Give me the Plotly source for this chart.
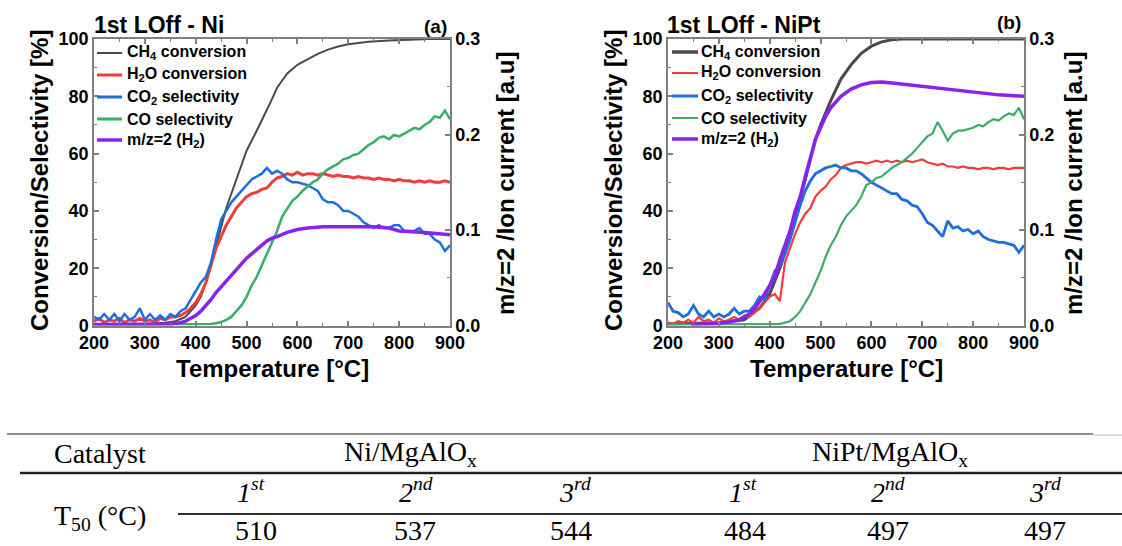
import plotly.graph_objects as go

W, H = 1122, 546


def px(x):
    return x / W


def py(y):
    return 1 - y / H


# ---------------- data ----------------
T10 = list(range(200, 910, 10))

# Panel (a) : Ni
ni_ch4_T = [200, 250, 300, 340, 360, 380, 400, 410, 420, 430, 440, 450, 460, 470, 480, 490, 500,
            520, 540, 550, 560, 580, 600, 620, 640, 660, 680, 700, 740, 780, 820, 860, 900]
ni_ch4 = [0.5, 0.5, 0.5, 1, 1.5, 3, 7, 10, 15, 21, 28, 35, 41, 46, 51, 56, 61,
          68, 75, 79, 83, 88, 91, 93, 94.8, 96.3, 97.4, 98.2, 99, 99.5, 99.8, 100, 100]

ni_h2o = [1.5, 2.5, 1, 2, 1.5, 2.5, 1, 2, 1.5, 2.5, 1.5, 2, 1, 2.5, 2, 3, 3, 3.5, 4.5, 6,
          8, 11, 15, 21, 27, 31, 35, 38, 41, 43, 45, 46, 46.5, 47.5, 48, 50, 51.5, 52, 53, 52.5,
          53.5, 52.5, 53, 53, 52.5, 53, 52.5, 52, 52.5, 52, 52, 51.5, 52, 51.5, 51.5, 51, 51.5, 51, 51, 50.5,
          51, 50.5, 50.5, 50, 50.5, 50, 50.5, 50, 50, 50.5, 50]

ni_co2 = [3, 2, 4, 2, 4, 1.5, 4, 2, 3, 6, 2, 4, 2, 3.5, 2, 4, 3, 5, 6, 9,
          12, 15, 17, 22, 30, 37, 40, 43, 45, 47, 49, 51, 52, 53, 55, 53, 54, 53, 51, 50,
          50, 49.5, 49, 48, 47, 44, 43, 43, 42, 40, 40, 39, 38, 36, 35, 34, 35, 34, 34, 35,
          35, 33, 33, 33, 34, 32, 32, 30, 29, 26, 28]

ni_co = [0.3] * 23 + [0.5, 0.8, 1.2, 2, 3, 5, 7, 10, 14, 17, 21, 25, 29, 33, 38, 41, 43.5,
                      45, 47, 48.5, 50, 51, 53, 54.5, 55.5, 56.5, 58, 58.5, 59.5, 60, 61.5, 63, 64, 65.5, 66,
                      65, 66.5, 66, 67, 68, 69, 68.5, 70, 71, 73, 72.5, 75, 72]

ni_h2_T = [200, 300, 350, 370, 380, 390, 400, 410, 420, 430, 440, 450, 460, 470, 480, 490, 500,
           510, 520, 530, 540, 550, 560, 580, 600, 620, 650, 700, 750, 780, 800, 850, 900]
ni_h2 = [0.001, 0.001, 0.0015, 0.003, 0.0045, 0.0075, 0.0105, 0.015, 0.021, 0.027, 0.0345, 0.0405,
         0.0465, 0.0525, 0.0585, 0.0645, 0.0705, 0.075, 0.0795, 0.084, 0.0885, 0.0915, 0.093, 0.0975,
         0.1005, 0.102, 0.1035, 0.1035, 0.1035, 0.102, 0.099, 0.0975, 0.095]

# Panel (b) : NiPt
pt_ch4_T = [200, 300, 350, 380, 400, 420, 440, 460, 470, 480, 490, 500, 510, 520, 540, 560, 580,
            600, 620, 640, 660, 700, 800, 900]
pt_ch4 = [0.5, 1, 2, 6, 11, 20, 31, 44, 51, 58, 65, 70, 74.5, 78.5, 86, 91, 95,
          97.5, 99, 99.7, 100, 100, 100, 100]

pt_h2o = [1, 0.5, 1.5, 1, 2, 1, 3, 1.5, 2, 1, 2.5, 1.5, 2, 3, 2, 3.5, 3, 4.5, 6, 8,
          10, 11, 8.5, 22, 27, 32, 36, 39, 41, 45, 47, 48.5, 51, 52.5, 55, 56, 56.5, 57, 57, 56.5,
          57, 57.5, 57, 57.5, 57, 57.5, 57, 57.5, 57, 57.5, 58, 57, 56.5, 56, 56.5, 55.5, 55.5, 55, 55.5, 55,
          55, 54.5, 55, 55, 54.5, 55, 55, 54.5, 55, 55, 55]

pt_co2 = [8, 5, 4.5, 3, 4, 7, 4, 3, 5, 3, 4, 3, 4, 6, 4, 5, 5, 7, 10, 9,
          14, 19, 21, 25, 30, 36, 42, 47, 50.5, 53, 54, 55, 55.5, 56, 55, 55, 54, 54, 53, 51.5,
          50, 49, 48, 47, 46, 46, 44, 43.5, 42, 41.5, 39, 36, 35, 33, 31, 36.5, 34, 34.5, 33, 33.5,
          32, 33, 31, 30, 29.5, 29, 29, 28.5, 28, 25.5, 28]

pt_co = [0.3] * 22 + [0.5, 1, 1.5, 3, 5, 8, 11, 15, 19, 24, 28, 31, 35, 38, 40, 42, 45, 49,
                      50, 51.5, 52, 53.5, 55, 56, 57, 58.5, 60, 62, 64, 66, 67, 71, 68, 64.5, 67, 68, 68, 68.5,
                      69, 70, 69.5, 71, 72, 71.5, 73, 74, 73.5, 76, 72]

pt_h2_T = [245, 280, 300, 320, 340, 360, 375, 390, 400, 410, 420, 430, 440, 450, 460, 470, 480,
           490, 500, 510, 520, 540, 560, 580, 600, 620, 650, 700, 750, 800, 850, 900]
pt_h2 = [0.0009, 0.0015, 0.0024, 0.0036, 0.006, 0.012, 0.021, 0.033, 0.042, 0.051, 0.069, 0.084,
         0.099, 0.12, 0.135, 0.156, 0.177, 0.195, 0.207, 0.219, 0.228, 0.24, 0.2475, 0.252, 0.2544,
         0.255, 0.2535, 0.2505, 0.2475, 0.2445, 0.2415, 0.24]

series_names = ["CH<sub>4</sub> conversion", "H<sub>2</sub>O conversion", "CO<sub>2</sub> selectivity",
                "CO selectivity", "m/z=2 (H<sub>2</sub>)"]
panel_titles = ["1st LOff - Ni", "1st LOff - NiPt"]
panel_tags = ["(a)", "(b)"]

# Table
catalysts = ["Ni/MgAlO<sub>x</sub>", "NiPt/MgAlO<sub>x</sub>"]
cycles = ["1<sup>st</sup>", "2<sup>nd</sup>", "3<sup>rd</sup>", "1<sup>st</sup>", "2<sup>nd</sup>", "3<sup>rd</sup>"]
t50_values = [510, 537, 544, 484, 497, 497]

# ---------------- style ----------------
colors = ["#4a4a4a", "#f23b3b", "#1d6fdd", "#37ae69", "#8a22ec"]
SANS = "Liberation Sans"
SERIF = "Liberation Serif, Times New Roman, serif"
AX = "#808080"

fig = go.Figure()

panels = [
    dict(xa="x", ya="y", ya2="y2",
         data=[(ni_ch4_T, ni_ch4), (T10, ni_h2o), (T10, ni_co2), (T10, ni_co), (ni_h2_T, ni_h2)],
         widths=[2, 3, 2.5, 2.5, 3.5]),
    dict(xa="x2", ya="y3", ya2="y4",
         data=[(pt_ch4_T, pt_ch4), (T10, pt_h2o), (T10, pt_co2), (T10, pt_co), (pt_h2_T, pt_h2)],
         widths=[3, 2.2, 2.8, 2.2, 3.5]),
]

for p in panels:
    for i, (xs, ys) in enumerate(p["data"]):
        fig.add_trace(go.Scatter(
            x=xs, y=ys, mode="lines", name=series_names[i], showlegend=False,
            xaxis=p["xa"], yaxis=p["ya2"] if i == 4 else p["ya"],
            line=dict(color=colors[i], width=p["widths"][i]),
            hoverinfo="skip"))

tickfont = dict(family=SANS, size=18, color="black", weight="bold")


def xaxis(domain, anchor):
    return dict(domain=domain, anchor=anchor, range=[200, 900], tick0=200, dtick=100,
                ticks="inside", ticklen=5, tickwidth=1.5, tickcolor=AX, automargin=False,
                showline=True, linecolor=AX, linewidth=1.5, mirror="ticks",
                showgrid=False, zeroline=False, tickfont=tickfont,
                minor=dict(dtick=50, ticks="inside", ticklen=3, tickcolor=AX, tickwidth=1.2, showgrid=False))


def yaxis(domain, anchor):
    return dict(domain=domain, anchor=anchor, range=[0, 100], tick0=0, dtick=20,
                ticks="inside", ticklen=5, tickwidth=1.5, tickcolor=AX, automargin=False,
                showline=True, linecolor=AX, linewidth=1.5,
                showgrid=False, zeroline=False, tickfont=tickfont,
                minor=dict(dtick=10, ticks="inside", ticklen=3, tickcolor=AX, tickwidth=1.2, showgrid=False))


def yaxis_r(overlay, anchor):
    return dict(overlaying=overlay, anchor=anchor, side="right", range=[0, 0.3], tick0=0, dtick=0.1,
                tickformat=".1f", ticks="inside", ticklen=5, tickwidth=1.5, tickcolor=AX, automargin=False,
                showline=True, linecolor=AX, linewidth=1.5,
                showgrid=False, zeroline=False, tickfont=tickfont,
                minor=dict(dtick=0.05, ticks="inside", ticklen=3, tickcolor=AX, tickwidth=1.2, showgrid=False))


ydom = [py(325.5), py(39)]
fig.update_layout(
    template="none",
    width=W, height=H, margin=dict(l=0, r=0, t=0, b=0, pad=0, autoexpand=False),
    paper_bgcolor="white", plot_bgcolor="white", showlegend=False,
    xaxis=xaxis([px(94), px(450)], "y"),
    yaxis=yaxis(ydom, "x"),
    yaxis2=yaxis_r("y", "x"),
    xaxis2=xaxis([px(668), px(1024)], "y3"),
    yaxis3=yaxis(ydom, "x2"),
    yaxis4=yaxis_r("y3", "x2"),
)

ann = []
shapes = []


def text(x, y, t, size, family=SANS, xanchor="center", angle=0, yanchor="middle"):
    ann.append(dict(x=px(x), y=py(y), xref="paper", yref="paper", text=t, showarrow=False,
                    xanchor=xanchor, yanchor=yanchor, textangle=angle, borderpad=0,
                    font=dict(family=family, size=size, color="black")))


# chart texts
offsets = [0, 574]
legend_geo = [dict(l0=97, l1=122, tx=126, rows=[53, 75, 97, 119, 140]),
              dict(l0=672, l1=698, tx=700, rows=[52, 73, 96, 118, 139])]
legend_w = [[2, 3, 3, 3, 3.5], [3.5, 2, 3, 2, 3.5]]
for k in range(2):
    o = offsets[k]
    text(93 + o - (0 if k == 0 else 1), 25, "<b>" + panel_titles[k] + "</b>", 23, xanchor="left")
    text(448 + o, 26 if k == 0 else 23, "<b>" + panel_tags[k] + "</b>", 19, xanchor="right")
    text(40 + o, 181, "<b>Conversion/Selectivity [%]</b>", 24, angle=-90)
    text(505 + o - (0 if k == 0 else 6), 184, "<b>m/z=2 /Ion current [a.u]</b>", 24, angle=-90)
    text(272 + o, 368, "<b>Temperature [°C]</b>", 24)
    g = legend_geo[k]
    for i in range(5):
        yy = g["rows"][i]
        shapes.append(dict(type="line", xref="paper", yref="paper", x0=px(g["l0"]), x1=px(g["l1"]),
                           y0=py(yy), y1=py(yy), line=dict(color=colors[i], width=legend_w[k][i])))
        text(g["tx"], yy, "<b>" + series_names[i] + "</b>", 16, xanchor="left")

# table
shapes.append(dict(type="line", xref="paper", yref="paper", x0=px(7), x1=px(1093), y0=py(434), y1=py(434),
                   line=dict(color="#8f8f8f", width=2)))
shapes.append(dict(type="line", xref="paper", yref="paper", x0=px(1093), x1=px(1122), y0=py(435), y1=py(435),
                   line=dict(color="#cfcfcf", width=1.5)))
shapes.append(dict(type="line", xref="paper", yref="paper", x0=px(20), x1=px(1122), y0=py(473), y1=py(473),
                   line=dict(color="#202020", width=2.5)))
shapes.append(dict(type="line", xref="paper", yref="paper", x0=px(178), x1=px(1122), y0=py(514), y1=py(514),
                   line=dict(color="#303030", width=2)))

TS = 28
text(100, 453, "Catalyst", TS, family=SERIF)
text(410, 453, catalysts[0], TS, family=SERIF)
text(890, 453, catalysts[1], TS, family=SERIF)
text(100, 517, "T<sub>50</sub> (°C)", TS, family=SERIF)
cyc_x = [251, 416, 575, 743, 888, 1045]
val_x = [256, 415, 571, 745, 888, 1045]
for i in range(6):
    text(cyc_x[i], 490, "<i>" + cycles[i] + "</i>", TS, family=SERIF)
    text(val_x[i], 530, str(t50_values[i]), TS, family=SERIF)

fig.update_layout(annotations=ann, shapes=shapes)
fig.write_html("out.html")
